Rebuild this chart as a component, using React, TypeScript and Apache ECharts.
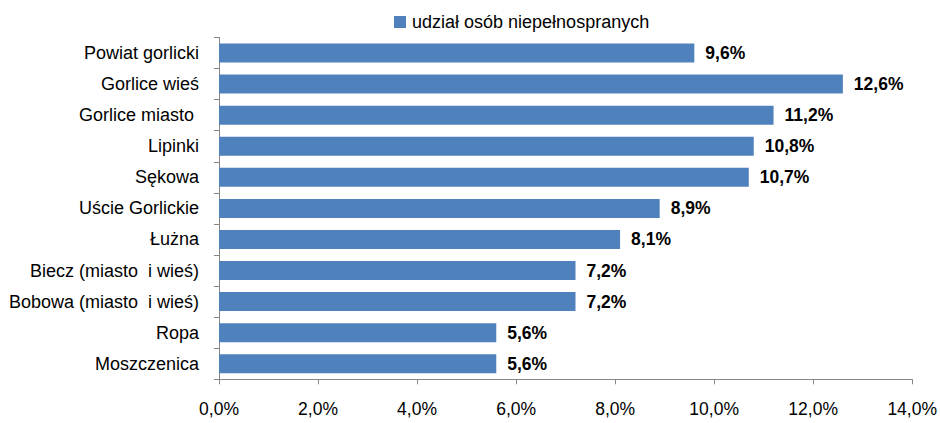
import React, { useEffect, useRef } from "react";
import * as echarts from "echarts";

const categories = [
  "Powiat gorlicki",
  "Gorlice wieś",
  "Gorlice miasto ",
  "Lipinki",
  "Sękowa",
  "Uście Gorlickie",
  "Łużna",
  "Biecz (miasto  i wieś)",
  "Bobowa (miasto  i wieś)",
  "Ropa",
  "Moszczenica",
];
const values = [9.6, 12.6, 11.2, 10.8, 10.7, 8.9, 8.1, 7.2, 7.2, 5.6, 5.6];
const seriesName = "udział osób niepełnospranych";

const fmt = (v: number) => v.toFixed(1).replace(".", ",") + "%";

export default function App() {
  const ref = useRef<HTMLDivElement>(null);
  useEffect(() => {
    if (!ref.current) return;
    const chart = echarts.init(ref.current, undefined, { renderer: "svg" });
    const font = "'Liberation Sans', Arial, sans-serif";
    chart.setOption({
      animation: false,
      textStyle: { fontFamily: font },
      legend: {
        data: [seriesName],
        left: 394,
        top: 13,
        padding: 0,
        icon: "rect",
        itemWidth: 12,
        itemHeight: 12,
        itemGap: 6,
        textStyle: { fontSize: 18, color: "#000", fontFamily: font, padding: [0, 0, 0, 1] },
      },
      grid: { left: 219, right: 27, top: 37.5, bottom: 43.7, containLabel: false },
      xAxis: {
        type: "value",
        min: 0,
        max: 14,
        interval: 2,
        axisLine: { show: true, lineStyle: { color: "#868686", width: 1 } },
        axisTick: { show: true, length: 5, lineStyle: { color: "#868686" } },
        splitLine: { show: false },
        axisLabel: {
          formatter: (v: number) => fmt(v),
          fontSize: 17.5,
          color: "#000",
          margin: 21,
          fontFamily: font,
        },
      },
      yAxis: {
        type: "category",
        data: categories,
        inverse: true,
        axisLine: { show: true, lineStyle: { color: "#868686", width: 1 } },
        axisTick: { show: true, length: 5, lineStyle: { color: "#868686" } },
        axisLabel: { fontSize: 18, color: "#000", margin: 20, fontFamily: font },
      },
      series: [
        {
          name: seriesName,
          type: "bar",
          data: values,
          barWidth: 19,
          itemStyle: { color: "#4F81BD" },
          label: {
            show: true,
            position: "right",
            distance: 11,
            formatter: (p: any) => fmt(p.value),
            fontSize: 17.5,
            fontWeight: "bold",
            color: "#000",
            fontFamily: font,
          },
        },
      ],
    });
    return () => chart.dispose();
  }, []);
  return (
    <div
      ref={ref}
      style={{ position: "absolute", left: 0, top: 0, width: 940, height: 423, background: "#fff" }}
    />
  );
}
